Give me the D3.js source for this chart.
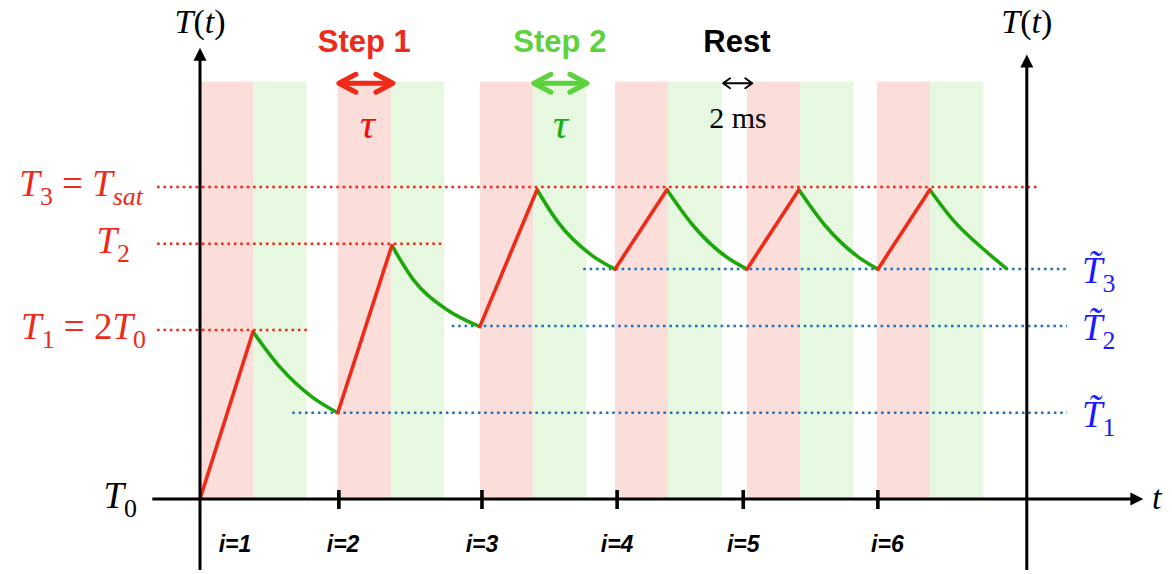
<!DOCTYPE html>
<html lang="en">
<head>
<meta charset="UTF-8">
<script src="https://d3js.org/d3.v7.min.js"></script>
<style>body{margin:0;background:#fff}</style>
</head>
<body>
<script>
// time in units of tau, temperature in units of T0
const redStart = [0, 2.6, 5.28, 7.83, 10.32, 12.77];
const greenStart = [1, 3.6, 6.28, 8.83, 11.32, 13.77];
const bandWidth = 1.01;
const bandTop = 3.47;

// heating ramps (start, peak) and cooling samples per cycle
const heatT = [[0, 1], [2.6, 3.62], [5.28, 6.36], [7.83, 8.81], [10.32, 11.3], [12.79, 13.77]];
const heatV = [[1, 1.99], [1.51, 2.5], [2.02, 2.83], [2.36, 2.83], [2.36, 2.83], [2.36, 2.83]];
const coolT = [[1, 1.51, 2.13, 2.6], [3.62, 4.02, 4.66, 5.28], [6.36, 6.75, 7.4, 7.83],
               [8.81, 9.3, 9.94, 10.32], [11.3, 11.79, 12.43, 12.79], [13.77, 14.21, 14.85, 15.23]];
const coolV = [[1.99, 1.78, 1.6, 1.51], [2.5, 2.3, 2.12, 2.02], [2.83, 2.64, 2.44, 2.36],
               [2.83, 2.62, 2.43, 2.36], [2.83, 2.62, 2.43, 2.36], [2.83, 2.65, 2.46, 2.36]];

// reference levels
const peakLevels = [2.0, 2.51, 2.846];
const peakFrom = -0.81;
const peakTo = [2.08, 4.62, 15.85];
const minLevels = [1.51, 2.024, 2.361];
const minFrom = [1.74, 4.75, 7.23];
const minTo = 16.36;

const tickT = [2.62, 5.32, 7.87, 10.25, 12.79];
const iLabels = ["i=1", "i=2", "i=3", "i=4", "i=5", "i=6"];
const iLabelT = [0.66, 2.7, 5.32, 7.87, 10.25, 12.97];

const W = 1172, H = 574;
const x = d3.scaleLinear().domain([0, 16]).range([200, 1048]);
const y = d3.scaleLinear().domain([1, 3]).range([499, 161]);

const RED = "#ee2a18", GREEN = "#1ca80a", BLUE_DOT = "#1f74bd";
const serif = "'Liberation Serif', 'Times New Roman', serif";
const sans = "'Liberation Sans', Arial, sans-serif";

const svg = d3.select("body").append("svg").attr("width", W).attr("height", H);

// background bands
svg.selectAll("rect.red").data(redStart).join("rect")
  .attr("x", d => x(d)).attr("y", y(bandTop))
  .attr("width", x(bandWidth) - x(0)).attr("height", y(1) - y(bandTop))
  .attr("fill", "#fbddd9");
svg.selectAll("rect.green").data(greenStart).join("rect")
  .attr("x", d => x(d)).attr("y", y(bandTop))
  .attr("width", x(bandWidth) - x(0)).attr("height", y(1) - y(bandTop))
  .attr("fill", "#e6f8e0");

// dotted levels
const dotted = (t0, t1, v, color) => svg.append("line")
  .attr("x1", x(t0)).attr("x2", x(t1)).attr("y1", y(v)).attr("y2", y(v))
  .attr("stroke", color).attr("stroke-width", 2.6).attr("stroke-dasharray", "2.6,3.8");
peakLevels.forEach((v, k) => dotted(peakFrom, peakTo[k], v, RED));
minLevels.forEach((v, k) => dotted(minFrom[k], minTo, v, BLUE_DOT));

// curves
const line = d3.line().x(d => x(d[0])).y(d => y(d[1]));
const cool = d3.line().x(d => x(d[0])).y(d => y(d[1])).curve(d3.curveMonotoneX);
coolT.forEach((ts, k) => svg.append("path")
  .attr("d", cool(ts.map((t, j) => [t, coolV[k][j]])))
  .attr("fill", "none").attr("stroke", GREEN).attr("stroke-width", 3.6));
heatT.forEach((ts, k) => svg.append("path")
  .attr("d", line(ts.map((t, j) => [t, heatV[k][j]])))
  .attr("fill", "none").attr("stroke", RED).attr("stroke-width", 3.6).attr("stroke-linecap", "round"));

// axes
const ax = svg.append("g").attr("stroke", "#000").attr("stroke-width", 3);
ax.append("line").attr("x1", x(-0.9)).attr("x2", x(17.6)).attr("y1", y(1)).attr("y2", y(1));
ax.append("line").attr("x1", x(0)).attr("x2", x(0)).attr("y1", y(0.58)).attr("y2", y(3.6));
ax.append("line").attr("x1", x(15.6)).attr("x2", x(15.6)).attr("y1", y(0.58)).attr("y2", y(3.56));
const tri = (px, py, dir) => {
  const L = 13, h = 6.5;
  const pts = dir === "up" ? [[px, py], [px - h, py + L], [px + h, py + L]]
                           : [[px, py], [px - L, py - h], [px - L, py + h]];
  svg.append("path").attr("d", "M" + pts.join("L") + "Z").attr("fill", "#000");
};
tri(x(0), y(3.67), "up");
tri(x(15.6), y(3.63), "up");
tri(x(17.8), y(1), "right");
ax.selectAll("line.tick").data(tickT).join("line")
  .attr("x1", d => x(d)).attr("x2", d => x(d))
  .attr("y1", y(1) - 9).attr("y2", y(1) + 10).attr("stroke-width", 3.6);

svg.selectAll("text.i").data(iLabels).join("text")
  .attr("x", (d, k) => x(iLabelT[k])).attr("y", 552)
  .attr("text-anchor", "middle").attr("font-family", sans)
  .attr("font-weight", "bold").attr("font-style", "italic").attr("font-size", 23)
  .text(d => d);

// math labels: parts = [text, italic, sub]
function math(px, py, parts, color, anchor, size) {
  const t = svg.append("text").attr("x", px).attr("y", py).attr("fill", color)
    .attr("text-anchor", anchor).attr("font-family", serif).attr("font-size", size);
  let shifted = false;
  parts.forEach(([s, it, sub]) => {
    const sp = t.append("tspan").text(s).attr("font-style", it ? "italic" : "normal");
    if (sub && !shifted) { sp.attr("dy", size * 0.24).attr("font-size", size * 0.7); shifted = true; }
    else if (sub) sp.attr("font-size", size * 0.7);
    else if (shifted) { sp.attr("dy", -size * 0.24); shifted = false; }
  });
  return t;
}
math(x(0), 33, [["T", 1], ["(", 0], ["t", 1], [")", 0]], "#000", "middle", 34);
math(x(15.6), 33, [["T", 1], ["(", 0], ["t", 1], [")", 0]], "#000", "middle", 34);
math(1152, 509, [["t", 1]], "#000", "start", 34);
math(143, y(peakLevels[2]) + 9, [["T", 1], ["3", 0, 1], [" = ", 0], ["T", 1], ["sat", 1, 1]], RED, "end", 37);
math(130, y(peakLevels[1]) + 9, [["T", 1], ["2", 0, 1]], RED, "end", 37);
math(146, y(peakLevels[0]) + 9, [["T", 1], ["1", 0, 1], [" = 2", 0], ["T", 1], ["0", 0, 1]], RED, "end", 37);
math(137, y(1) + 9, [["T", 1], ["0", 0, 1]], "#000", "end", 37);
minLevels.forEach((v, k) => {
  math(1082, y(v) + 14, [["T\u0303", 1], [String(k + 1), 0, 1]], "#1a1aff", "start", 37);
});

// step arrows
function dblArrow(t0, t1, v, color, w, L, h) {
  const x0 = x(t0), x1 = x(t1), yy = y(v);
  const g = svg.append("g").attr("stroke", color).attr("stroke-width", w)
    .attr("fill", "none").attr("stroke-linecap", "round").attr("stroke-linejoin", "round");
  g.append("line").attr("x1", x0 + 2).attr("x2", x1 - 2).attr("y1", yy).attr("y2", yy);
  g.append("path").attr("d", `M${x0 + L},${yy - h}L${x0},${yy}L${x0 + L},${yy + h}`);
  g.append("path").attr("d", `M${x1 - L},${yy - h}L${x1},${yy}L${x1 - L},${yy + h}`);
}
dblArrow(2.62, 3.64, bandTop - 0.01, RED, 5, 17, 9);
dblArrow(6.3, 7.3, bandTop - 0.01, "#5cd23c", 5, 17, 9);
dblArrow(9.87, 10.42, bandTop - 0.01, "#000", 2, 7, 5);

const headLabel = (t, s, c) => svg.append("text").attr("x", x(t)).attr("y", 52)
  .attr("text-anchor", "middle").attr("font-family", sans).attr("font-weight", "bold")
  .attr("font-size", 31).attr("fill", c).text(s);
headLabel(3.1, "Step 1", RED);
headLabel(6.79, "Step 2", "#5cd23c");
headLabel(10.13, "Rest", "#000");

math(x(3.16), 138, [["\u03c4", 1]], "#f01010", "middle", 42);
math(x(6.8), 138, [["\u03c4", 1]], "#10b010", "middle", 42);
math(x(10.15), 128, [["2 ms", 0]], "#000", "middle", 30);
</script>
</body>
</html>
